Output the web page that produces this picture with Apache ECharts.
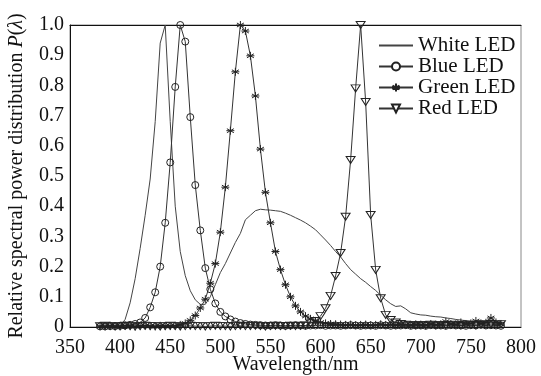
<!DOCTYPE html>
<html>
<head>
<meta charset="utf-8">
<script src="https://cdn.jsdelivr.net/npm/echarts@6/dist/echarts.min.js"></script>
<style>
html,body{margin:0;padding:0;background:#fff;}
#chart{width:541px;height:376px;}
</style>
</head>
<body>
<div id="chart"></div>
<script>
var wavelengths = [380,385,390,395,400,405,410,415,420,425,430,435,440,445,450,455,460,465,470,475,480,485,490,495,500,505,510,515,520,525,530,535,540,545,550,555,560,565,570,575,580,585,590,595,600,605,610,615,620,625,630,635,640,645,650,655,660,665,670,675,680,685,690,695,700,705,710,715,720,725,730,735,740,745,750,755,760,765,770,775,780];

var whiteLED = [0,0,0,0,0.002,0.025,0.08,0.16,0.26,0.37,0.49,0.68,0.94,1.0,0.68,0.4,0.25,0.17,0.12,0.09,0.075,0.075,0.1,0.14,0.18,0.21,0.245,0.28,0.31,0.355,0.37,0.385,0.39,0.388,0.387,0.385,0.383,0.377,0.37,0.362,0.354,0.345,0.334,0.322,0.305,0.288,0.27,0.25,0.232,0.21,0.19,0.175,0.16,0.148,0.134,0.121,0.105,0.09,0.077,0.068,0.07,0.06,0.047,0.043,0.04,0.039,0.036,0.034,0.033,0.03,0.028,0.025,0.023,0.021,0.019,0.018,0.016,0.015,0.014,0.012,0.011];

var blueLED = [0.002,0.002,0.003,0.003,0.004,0.005,0.007,0.01,0.015,0.03,0.065,0.115,0.2,0.345,0.545,0.795,1.0,0.945,0.695,0.47,0.32,0.195,0.125,0.078,0.05,0.035,0.025,0.018,0.013,0.01,0.008,0.007,0.006,0.005,0.005,0.006,0.005,0.004,0.005,0.006,0.005,0.004,0.005,0.005,0.006,0.004,0.005,0.005,0.004,0.005,0.006,0.005,0.004,0.005,0.005,0.004,0.006,0.005,0.004,0.005,0.005,0.006,0.004,0.005,0.005,0.004,0.006,0.005,0.005,0.004,0.006,0.005,0.005,0.004,0.006,0.005,0.007,0.005,0.006,0.005,0.004];

var greenLED = [0.003,0.002,0.004,0.003,0.002,0.004,0.003,0.002,0.003,0.004,0.003,0.002,0.004,0.003,0.003,0.004,0.007,0.012,0.022,0.038,0.063,0.092,0.145,0.21,0.314,0.463,0.65,0.845,1.0,0.98,0.898,0.765,0.589,0.446,0.345,0.25,0.19,0.14,0.1,0.07,0.05,0.036,0.027,0.02,0.015,0.012,0.01,0.009,0.008,0.007,0.008,0.006,0.007,0.008,0.006,0.007,0.009,0.007,0.008,0.006,0.009,0.008,0.007,0.009,0.008,0.007,0.01,0.008,0.009,0.018,0.01,0.009,0.015,0.01,0.012,0.02,0.012,0.014,0.03,0.015,0.01];

var redLED = [0.003,0.004,0.003,0.002,0.003,0.004,0.003,0.002,0.003,0.004,0.003,0.003,0.002,0.003,0.004,0.003,0.002,0.003,0.004,0.003,0.003,0.002,0.003,0.004,0.003,0.003,0.002,0.003,0.004,0.003,0.003,0.004,0.003,0.002,0.003,0.004,0.003,0.003,0.004,0.003,0.004,0.005,0.012,0.02,0.036,0.062,0.103,0.169,0.245,0.365,0.553,0.79,1.0,0.745,0.371,0.189,0.095,0.04,0.023,0.015,0.01,0.008,0.007,0.006,0.007,0.006,0.008,0.006,0.007,0.006,0.008,0.007,0.006,0.008,0.007,0.006,0.009,0.007,0.01,0.008,0.009];

var seriesNames = ['White LED','Blue LED','Green LED','Red LED'];
var xTicks = [350,400,450,500,550,600,650,700,750,800];
var yTicks = [0,0.1,0.2,0.3,0.4,0.5,0.6,0.7,0.8,0.9,1.0];

function pairs(vals){
  return wavelengths.map(function(w,i){return [w, vals[i]];});
}

var FONT = 'Liberation Serif';
var markerStyle = {color:'rgba(0,0,0,0)', borderColor:'#222', borderWidth:1};
var starPath = 'path://M10 0L10 20M1.34 5L18.66 15M18.66 5L1.34 15M0 10L20 10';
var triPath = 'path://M0 0L20 0L10 17Z';

var chart = echarts.init(document.getElementById('chart'));
chart.setOption({
  animation:false,
  backgroundColor:'#fff',
  grid:{left:70, right:20, top:25, bottom:49, show:true, borderColor:'#888', borderWidth:1,
    containLabel:false, outerBoundsMode:'none'},
  legend:{
    orient:'vertical', left:373, top:30,
    itemWidth:34, itemHeight:10, itemGap:0,
    data:[
      {name:seriesNames[0], itemStyle:{opacity:0}},
      {name:seriesNames[1], itemStyle:{color:'#fff'}},
      {name:seriesNames[2]},
      {name:seriesNames[3], itemStyle:{color:'#fff'}}
    ],
    textStyle:{fontFamily:FONT, fontSize:21, color:'#111', lineHeight:21}
  },
  xAxis:[{
    type:'value', min:xTicks[0], max:xTicks[xTicks.length-1], interval:50,
    name:'Wavelength/nm', nameLocation:'middle', nameGap:28, nameMoveOverlap:false,
    nameTextStyle:{fontFamily:FONT, fontSize:20, color:'#111', verticalAlign:'top'},
    axisLine:{show:true, lineStyle:{color:'#111', width:1}},
    axisTick:{show:false},
    splitLine:{show:false},
    axisLabel:{fontFamily:FONT, fontSize:20, color:'#111', margin:11}
  },{
    type:'value', position:'top', min:xTicks[0], max:xTicks[xTicks.length-1],
    axisLine:{show:true, lineStyle:{color:'#111', width:1}},
    axisTick:{show:false}, axisLabel:{show:false}, splitLine:{show:false}
  }],
  yAxis:{
    type:'value', min:yTicks[0], max:yTicks[yTicks.length-1], interval:0.1,
    name:'{n|Relative spectral power distribution }{i|P}{n|(}{i|λ}{n|)}',
    nameLocation:'middle', nameGap:43, nameRotate:90, nameMoveOverlap:false,
    nameTextStyle:{fontFamily:FONT, fontSize:20, color:'#111',
      rich:{n:{fontFamily:FONT, fontSize:20, color:'#111'}, i:{fontFamily:FONT, fontSize:20, color:'#111', fontStyle:'italic'}}},
    axisLine:{show:true, lineStyle:{color:'#111', width:1}},
    axisTick:{show:false},
    splitLine:{show:false},
    axisLabel:{fontFamily:FONT, fontSize:20, color:'#111', margin:6,
      formatter:function(v){return v===0?'0':v.toFixed(1);}}
  },
  series:[
    {name:seriesNames[0], type:'line', data:pairs(whiteLED), symbol:'none',
      lineStyle:{color:'#444', width:1}, itemStyle:{color:'#444'}, emphasis:{disabled:true}},
    {name:seriesNames[1], type:'line', data:pairs(blueLED), symbol:'circle', symbolSize:7,
      lineStyle:{color:'#333', width:1}, itemStyle:markerStyle, emphasis:{disabled:true}},
    {name:seriesNames[2], type:'line', data:pairs(greenLED), symbol:starPath, symbolSize:8,
      lineStyle:{color:'#333', width:1}, itemStyle:markerStyle, emphasis:{disabled:true}},
    {name:seriesNames[3], type:'line', data:pairs(redLED), symbol:triPath, symbolSize:[9,7],
      lineStyle:{color:'#333', width:1}, itemStyle:markerStyle, emphasis:{disabled:true}}
  ]
});
</script>
</body>
</html>
